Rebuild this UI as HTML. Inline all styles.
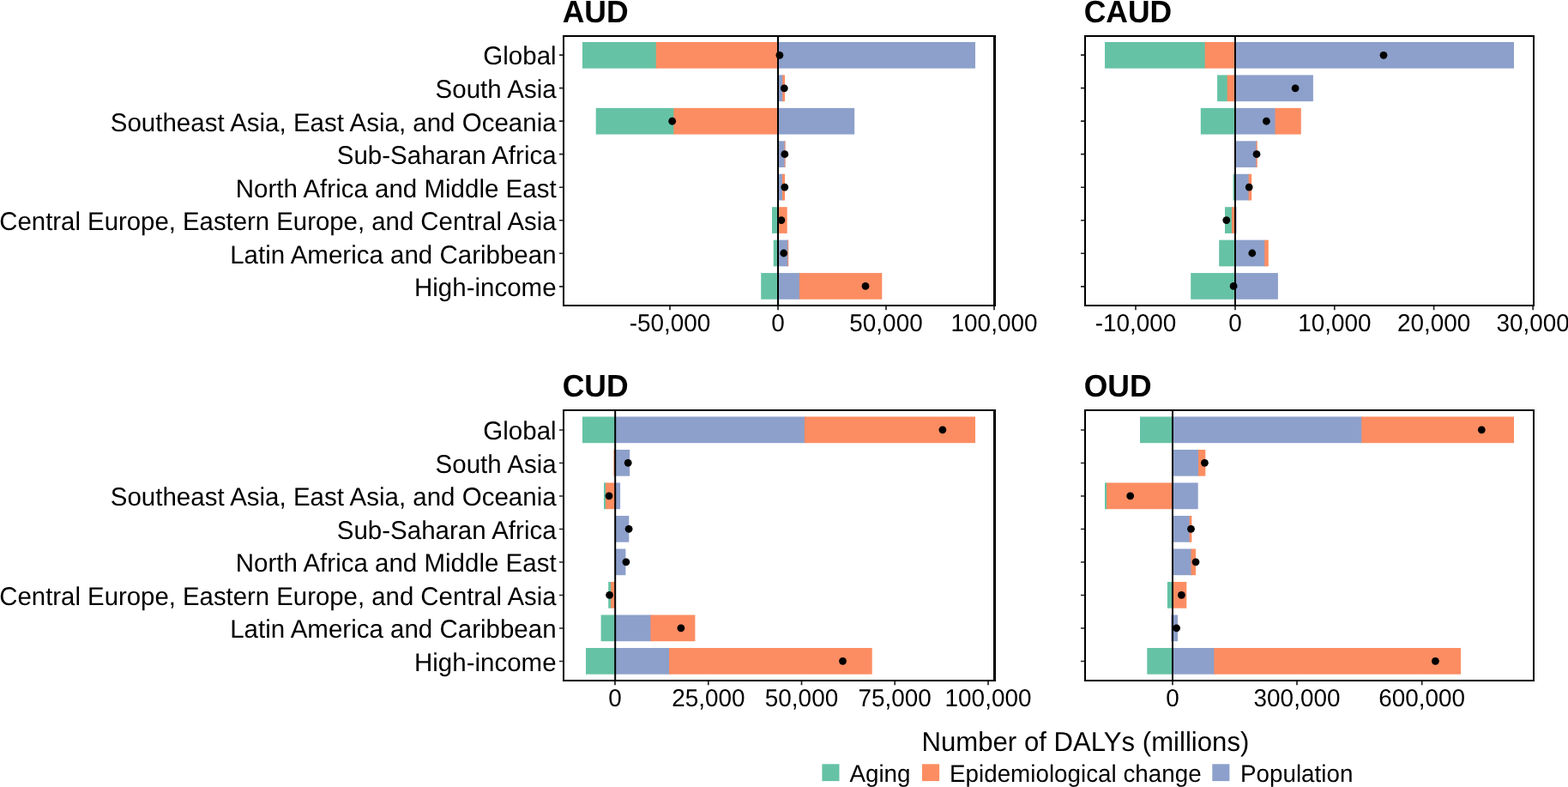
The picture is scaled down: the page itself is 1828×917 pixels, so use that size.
<!DOCTYPE html>
<html lang="en">
<head>
<meta charset="utf-8">
<title>Decomposition of DALYs</title>
<style>
html,body{margin:0;padding:0;background:#fff;}
body{width:1828px;height:917px;overflow:hidden;}
svg{display:block;}
text{font-family:"Liberation Sans",Arial,Helvetica,sans-serif;fill:#000;text-rendering:geometricPrecision;}
.yl{font-size:29.5px;text-anchor:end;}
.xl{font-size:27.9px;text-anchor:middle;}
.lg{font-size:27.8px;}
.at{font-size:31.15px;text-anchor:middle;}
.tt{font-size:35.5px;font-weight:bold;}
</style>
</head>
<body>
<svg width="1828" height="917" viewBox="0 0 1828 917">
<rect x="0" y="0" width="1828" height="917" fill="#fff"/>
<g id="panel-aud">
<text class="tt" transform="translate(655.7 26) scale(1 1.02)">AUD</text>
<rect x="679" y="49" width="86.8" height="30.7" fill="#66C2A5"/>
<rect x="764.8" y="49" width="143.2" height="30.7" fill="#FC8D62"/>
<rect x="907" y="49" width="230" height="30.7" fill="#8DA0CB"/>
<rect x="907" y="87.44" width="6.3" height="30.7" fill="#8DA0CB"/>
<rect x="912.3" y="87.44" width="2.8" height="30.7" fill="#FC8D62"/>
<rect x="694.7" y="125.88" width="91.7" height="30.7" fill="#66C2A5"/>
<rect x="785.4" y="125.88" width="122.6" height="30.7" fill="#FC8D62"/>
<rect x="907" y="125.88" width="89.2" height="30.7" fill="#8DA0CB"/>
<rect x="907" y="164.32" width="8.5" height="30.7" fill="#8DA0CB"/>
<rect x="914.5" y="164.32" width="0.9" height="30.7" fill="#FC8D62"/>
<rect x="907" y="202.76" width="6" height="30.7" fill="#8DA0CB"/>
<rect x="912" y="202.76" width="3.1" height="30.7" fill="#FC8D62"/>
<rect x="900" y="241.2" width="8" height="30.7" fill="#66C2A5"/>
<rect x="907" y="241.2" width="10.7" height="30.7" fill="#FC8D62"/>
<rect x="901.7" y="279.64" width="6.3" height="30.7" fill="#66C2A5"/>
<rect x="907" y="279.64" width="12.2" height="30.7" fill="#8DA0CB"/>
<rect x="918.2" y="279.64" width="0.9" height="30.7" fill="#FC8D62"/>
<rect x="887.2" y="318.08" width="20.8" height="30.7" fill="#66C2A5"/>
<rect x="907" y="318.08" width="25.9" height="30.7" fill="#8DA0CB"/>
<rect x="931.9" y="318.08" width="96.4" height="30.7" fill="#FC8D62"/>
<line x1="907" y1="42" x2="907" y2="356" stroke="#000" stroke-width="2.0"/>
<circle cx="908.9" cy="64.35" r="4.4" fill="#000"/>
<circle cx="914.3" cy="102.79" r="4.4" fill="#000"/>
<circle cx="783.7" cy="141.23" r="4.4" fill="#000"/>
<circle cx="914.8" cy="179.67" r="4.4" fill="#000"/>
<circle cx="914.8" cy="218.11" r="4.4" fill="#000"/>
<circle cx="910.9" cy="256.55" r="4.4" fill="#000"/>
<circle cx="913.7" cy="294.99" r="4.4" fill="#000"/>
<circle cx="1009" cy="333.43" r="4.4" fill="#000"/>
<path d="M656 41H1161V357H656ZM658 43V355H1158V43Z" fill="#000" fill-rule="evenodd"/>
<path d="M652 64.15H656M652 102.67H656M652 141.19H656M652 179.71H656M652 218.23H656M652 256.75H656M652 295.27H656M652 333.79H656M781 357V361.3M907 357V361.3M1033 357V361.3M1159 357V361.3" stroke="#222" stroke-width="1.7" fill="none"/>
<text class="yl" transform="translate(648.6 75) scale(1 1.015)">Global</text>
<text class="yl" transform="translate(648.6 114) scale(1 1.015)">South Asia</text>
<text class="yl" transform="translate(648.6 153) scale(1 1.015)">Southeast Asia, East Asia, and Oceania</text>
<text class="yl" transform="translate(648.6 191) scale(1 1.015)">Sub-Saharan Africa</text>
<text class="yl" transform="translate(648.6 230) scale(1 1.015)">North Africa and Middle East</text>
<text class="yl" transform="translate(648.6 268) scale(1 1.015)" textLength="649.3" lengthAdjust="spacingAndGlyphs">Central Europe, Eastern Europe, and Central Asia</text>
<text class="yl" transform="translate(648.6 307) scale(1 1.015)">Latin America and Caribbean</text>
<text class="yl" transform="translate(648.6 345) scale(1 1.015)">High-income</text>
<text class="xl" transform="translate(781 385.9) scale(1 1.03)">-50,000</text>
<text class="xl" transform="translate(907 385.9) scale(1 1.03)">0</text>
<text class="xl" transform="translate(1033 385.9) scale(1 1.03)">50,000</text>
<text class="xl" transform="translate(1159 385.9) scale(1 1.03)">100,000</text>
</g>
<g id="panel-caud">
<text class="tt" transform="translate(1263.7 26) scale(1 1.02)">CAUD</text>
<rect x="1288" y="49" width="117.7" height="30.7" fill="#66C2A5"/>
<rect x="1404.7" y="49" width="36.3" height="30.7" fill="#FC8D62"/>
<rect x="1440" y="49" width="325" height="30.7" fill="#8DA0CB"/>
<rect x="1419.1" y="87.44" width="12.6" height="30.7" fill="#66C2A5"/>
<rect x="1430.7" y="87.44" width="10.3" height="30.7" fill="#FC8D62"/>
<rect x="1440" y="87.44" width="90.9" height="30.7" fill="#8DA0CB"/>
<rect x="1399.8" y="125.88" width="41.2" height="30.7" fill="#66C2A5"/>
<rect x="1440" y="125.88" width="47.5" height="30.7" fill="#8DA0CB"/>
<rect x="1486.5" y="125.88" width="30.3" height="30.7" fill="#FC8D62"/>
<rect x="1440" y="164.32" width="25.4" height="30.7" fill="#8DA0CB"/>
<rect x="1464.4" y="164.32" width="1.3" height="30.7" fill="#FC8D62"/>
<rect x="1437.6" y="202.76" width="3.4" height="30.7" fill="#66C2A5"/>
<rect x="1440" y="202.76" width="16.6" height="30.7" fill="#8DA0CB"/>
<rect x="1455.6" y="202.76" width="3.6" height="30.7" fill="#FC8D62"/>
<rect x="1428" y="241.2" width="9" height="30.7" fill="#66C2A5"/>
<rect x="1436" y="241.2" width="5" height="30.7" fill="#FC8D62"/>
<rect x="1440" y="241.2" width="1.5" height="30.7" fill="#8DA0CB"/>
<rect x="1421.2" y="279.64" width="19.8" height="30.7" fill="#66C2A5"/>
<rect x="1440" y="279.64" width="35.2" height="30.7" fill="#8DA0CB"/>
<rect x="1474.2" y="279.64" width="4.6" height="30.7" fill="#FC8D62"/>
<rect x="1388.2" y="318.08" width="52.8" height="30.7" fill="#66C2A5"/>
<rect x="1440" y="318.08" width="49.9" height="30.7" fill="#8DA0CB"/>
<line x1="1440" y1="42" x2="1440" y2="356" stroke="#000" stroke-width="2.0"/>
<circle cx="1613" cy="64.35" r="4.4" fill="#000"/>
<circle cx="1510.1" cy="102.79" r="4.4" fill="#000"/>
<circle cx="1476.4" cy="141.23" r="4.4" fill="#000"/>
<circle cx="1465" cy="179.67" r="4.4" fill="#000"/>
<circle cx="1456.2" cy="218.11" r="4.4" fill="#000"/>
<circle cx="1429.8" cy="256.55" r="4.4" fill="#000"/>
<circle cx="1459.8" cy="294.99" r="4.4" fill="#000"/>
<circle cx="1438.1" cy="333.43" r="4.4" fill="#000"/>
<path d="M1264 41H1789V357H1264ZM1266 43V355H1787V43Z" fill="#000" fill-rule="evenodd"/>
<path d="M1260 64.15H1264M1260 102.67H1264M1260 141.19H1264M1260 179.71H1264M1260 218.23H1264M1260 256.75H1264M1260 295.27H1264M1260 333.79H1264M1324 357V361.3M1440 357V361.3M1555.8 357V361.3M1671.6 357V361.3M1787.2 357V361.3" stroke="#222" stroke-width="1.7" fill="none"/>
<text class="xl" transform="translate(1324 385.9) scale(1 1.03)">-10,000</text>
<text class="xl" transform="translate(1440 385.9) scale(1 1.03)">0</text>
<text class="xl" transform="translate(1555.8 385.9) scale(1 1.03)">10,000</text>
<text class="xl" transform="translate(1671.6 385.9) scale(1 1.03)">20,000</text>
<text class="xl" transform="translate(1787.2 385.9) scale(1 1.03)">30,000</text>
</g>
<g id="panel-cud">
<text class="tt" transform="translate(655.7 462) scale(1 1.02)">CUD</text>
<rect x="679" y="485.5" width="39.1" height="30.7" fill="#66C2A5"/>
<rect x="717.1" y="485.5" width="221.8" height="30.7" fill="#8DA0CB"/>
<rect x="937.9" y="485.5" width="199.1" height="30.7" fill="#FC8D62"/>
<rect x="715.4" y="524" width="2.7" height="30.7" fill="#FC8D62"/>
<rect x="717.1" y="524" width="17.1" height="30.7" fill="#8DA0CB"/>
<rect x="704" y="562.5" width="3" height="30.7" fill="#66C2A5"/>
<rect x="706" y="562.5" width="12.1" height="30.7" fill="#FC8D62"/>
<rect x="717.1" y="562.5" width="6" height="30.7" fill="#8DA0CB"/>
<rect x="717.1" y="601" width="16.2" height="30.7" fill="#8DA0CB"/>
<rect x="717.1" y="639.5" width="12.3" height="30.7" fill="#8DA0CB"/>
<rect x="709.2" y="678" width="3.8" height="30.7" fill="#66C2A5"/>
<rect x="712" y="678" width="5.1" height="30.7" fill="#FC8D62"/>
<rect x="700.6" y="716.5" width="17.5" height="30.7" fill="#66C2A5"/>
<rect x="717.1" y="716.5" width="42.3" height="30.7" fill="#8DA0CB"/>
<rect x="758.4" y="716.5" width="52" height="30.7" fill="#FC8D62"/>
<rect x="683" y="755" width="35.1" height="30.7" fill="#66C2A5"/>
<rect x="717.1" y="755" width="63.9" height="30.7" fill="#8DA0CB"/>
<rect x="780" y="755" width="236.7" height="30.7" fill="#FC8D62"/>
<line x1="717.2" y1="478" x2="717.2" y2="792.9" stroke="#000" stroke-width="2.0"/>
<circle cx="1098.9" cy="500.85" r="4.4" fill="#000"/>
<circle cx="732.2" cy="539.35" r="4.4" fill="#000"/>
<circle cx="710" cy="577.85" r="4.4" fill="#000"/>
<circle cx="733.1" cy="616.35" r="4.4" fill="#000"/>
<circle cx="729.9" cy="654.85" r="4.4" fill="#000"/>
<circle cx="710.6" cy="693.35" r="4.4" fill="#000"/>
<circle cx="793.9" cy="731.85" r="4.4" fill="#000"/>
<circle cx="982.5" cy="770.35" r="4.4" fill="#000"/>
<path d="M656 477H1161V793.9H656ZM658 479V791.9H1158V479Z" fill="#000" fill-rule="evenodd"/>
<path d="M652 501H656M652 539.5H656M652 578H656M652 616.5H656M652 655H656M652 693.5H656M652 732H656M652 770.5H656M717 793.9V798.2M825.8 793.9V798.2M934.5 793.9V798.2M1043.2 793.9V798.2M1152 793.9V798.2" stroke="#222" stroke-width="1.7" fill="none"/>
<text class="yl" transform="translate(648.6 512) scale(1 1.015)">Global</text>
<text class="yl" transform="translate(648.6 551) scale(1 1.015)">South Asia</text>
<text class="yl" transform="translate(648.6 589) scale(1 1.015)">Southeast Asia, East Asia, and Oceania</text>
<text class="yl" transform="translate(648.6 628) scale(1 1.015)">Sub-Saharan Africa</text>
<text class="yl" transform="translate(648.6 666) scale(1 1.015)">North Africa and Middle East</text>
<text class="yl" transform="translate(648.6 705) scale(1 1.015)" textLength="649.3" lengthAdjust="spacingAndGlyphs">Central Europe, Eastern Europe, and Central Asia</text>
<text class="yl" transform="translate(648.6 743) scale(1 1.015)">Latin America and Caribbean</text>
<text class="yl" transform="translate(648.6 782) scale(1 1.015)">High-income</text>
<text class="xl" transform="translate(717 822.7) scale(1 1.03)">0</text>
<text class="xl" transform="translate(825.8 822.7) scale(1 1.03)">25,000</text>
<text class="xl" transform="translate(934.5 822.7) scale(1 1.03)">50,000</text>
<text class="xl" transform="translate(1043.2 822.7) scale(1 1.03)">75,000</text>
<text class="xl" transform="translate(1152 822.7) scale(1 1.03)">100,000</text>
</g>
<g id="panel-oud">
<text class="tt" transform="translate(1263.7 462) scale(1 1.02)">OUD</text>
<rect x="1329" y="485.5" width="39" height="30.7" fill="#66C2A5"/>
<rect x="1367" y="485.5" width="221.3" height="30.7" fill="#8DA0CB"/>
<rect x="1587.3" y="485.5" width="177.7" height="30.7" fill="#FC8D62"/>
<rect x="1367" y="524" width="31" height="30.7" fill="#8DA0CB"/>
<rect x="1397" y="524" width="8.3" height="30.7" fill="#FC8D62"/>
<rect x="1288" y="562.5" width="3.1" height="30.7" fill="#66C2A5"/>
<rect x="1290.1" y="562.5" width="77.9" height="30.7" fill="#FC8D62"/>
<rect x="1367" y="562.5" width="29.7" height="30.7" fill="#8DA0CB"/>
<rect x="1367" y="601" width="20.6" height="30.7" fill="#8DA0CB"/>
<rect x="1386.6" y="601" width="2.8" height="30.7" fill="#FC8D62"/>
<rect x="1367" y="639.5" width="22.5" height="30.7" fill="#8DA0CB"/>
<rect x="1388.5" y="639.5" width="5.5" height="30.7" fill="#FC8D62"/>
<rect x="1360.9" y="678" width="7.1" height="30.7" fill="#66C2A5"/>
<rect x="1367" y="678" width="16.3" height="30.7" fill="#FC8D62"/>
<rect x="1365.4" y="716.5" width="2.6" height="30.7" fill="#8DA0CB"/>
<rect x="1367" y="716.5" width="6.1" height="30.7" fill="#8DA0CB"/>
<rect x="1337.3" y="755" width="30.7" height="30.7" fill="#66C2A5"/>
<rect x="1367" y="755" width="49.4" height="30.7" fill="#8DA0CB"/>
<rect x="1415.4" y="755" width="287.7" height="30.7" fill="#FC8D62"/>
<line x1="1367" y1="478" x2="1367" y2="792.9" stroke="#000" stroke-width="2.0"/>
<circle cx="1727.3" cy="500.85" r="4.4" fill="#000"/>
<circle cx="1404.4" cy="539.35" r="4.4" fill="#000"/>
<circle cx="1317.7" cy="577.85" r="4.4" fill="#000"/>
<circle cx="1388.5" cy="616.35" r="4.4" fill="#000"/>
<circle cx="1394" cy="654.85" r="4.4" fill="#000"/>
<circle cx="1377.4" cy="693.35" r="4.4" fill="#000"/>
<circle cx="1371.6" cy="731.85" r="4.4" fill="#000"/>
<circle cx="1673.4" cy="770.35" r="4.4" fill="#000"/>
<path d="M1264 477H1789V793.9H1264ZM1266 479V791.9H1787V479Z" fill="#000" fill-rule="evenodd"/>
<path d="M1260 501H1264M1260 539.5H1264M1260 578H1264M1260 616.5H1264M1260 655H1264M1260 693.5H1264M1260 732H1264M1260 770.5H1264M1367 793.9V798.2M1512 793.9V798.2M1657.7 793.9V798.2" stroke="#222" stroke-width="1.7" fill="none"/>
<text class="xl" transform="translate(1367 822.7) scale(1 1.03)">0</text>
<text class="xl" transform="translate(1512 822.7) scale(1 1.03)">300,000</text>
<text class="xl" transform="translate(1657.7 822.7) scale(1 1.03)">600,000</text>
</g>
<text class="at" transform="translate(1265.4 874.7) scale(1 1.02)">Number of DALYs (millions)</text>
<g id="legend">
<rect x="958.4" y="890.3" width="20.1" height="19.8" fill="#66C2A5"/>
<text class="lg" transform="translate(990.4 910.6) scale(1 1.015)">Aging</text>
<rect x="1075" y="890.3" width="20.1" height="19.8" fill="#FC8D62"/>
<text class="lg" transform="translate(1107 910.6) scale(1 1.015)">Epidemiological change</text>
<rect x="1413.3" y="890.3" width="20.1" height="19.8" fill="#8DA0CB"/>
<text class="lg" transform="translate(1446 910.6) scale(1 1.015)">Population</text>
</g>
</svg>
</body>
</html>
